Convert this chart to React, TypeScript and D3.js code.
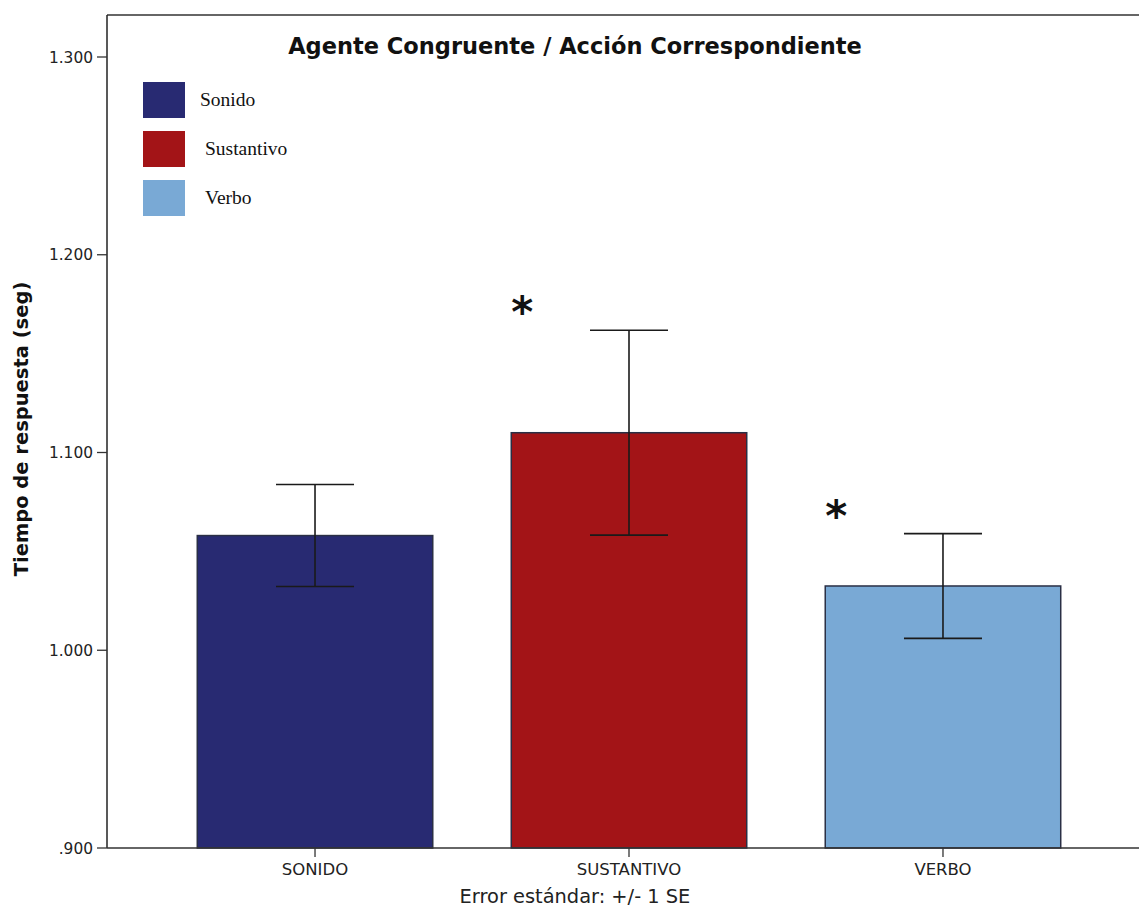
import React from "react";
import * as d3 from "d3";

// Mean response time per condition, with standard errors (seconds)
const categories = ["SONIDO", "SUSTANTIVO", "VERBO"];
const legendLabels = ["Sonido", "Sustantivo", "Verbo"];
const means = [1.058, 1.11, 1.0325];
const stdErrors = [0.0258, 0.0518, 0.0265];
const significant = [false, true, true];
const yTicks = [0.9, 1.0, 1.1, 1.2, 1.3];
const colors = ["#282a72", "#a31417", "#79a9d5"];

const W = 1139;
const H = 909;
const left = 107;
const right = 1151;
const top = 15;
const bottom = 848;

export default function App() {
  const y = d3.scaleLinear().domain([0.9, 1.3]).range([bottom, 57]);
  const x = d3
    .scaleBand<string>()
    .domain(categories)
    .range([left, right])
    .paddingInner(0.25)
    .paddingOuter(0.2875);
  const bw = x.bandwidth();
  const capHalf = 39;
  const fmt = (v: number) => {
    const s = d3.format(".3f")(v);
    return v < 1 ? s.replace(/^0/, "") : s;
  };
  const sans = "'DejaVu Sans', Arial, sans-serif";
  const serif = "'Liberation Serif', 'Times New Roman', serif";

  return (
    <svg
      width={W}
      height={H}
      style={{ position: "absolute", left: 0, top: 0, background: "#fff" }}
    >
      <rect x={0} y={0} width={W} height={H} fill="#fff" />
      {/* frame */}
      <line x1={left} x2={W} y1={top} y2={top} stroke="#666" strokeWidth={2} />
      <line x1={left} x2={left} y1={top} y2={bottom} stroke="#222" strokeWidth={1.5} />

      {/* bars */}
      {categories.map((c, i) => (
        <rect
          key={c}
          x={x(c)!}
          y={y(means[i])}
          width={bw}
          height={bottom - y(means[i])}
          fill={colors[i]}
          stroke="#2a2f45"
          strokeWidth={1.5}
        />
      ))}

      {/* error bars */}
      {categories.map((c, i) => {
        const cx = x(c)! + bw / 2;
        const hi = y(means[i] + stdErrors[i]);
        const lo = y(means[i] - stdErrors[i]);
        return (
          <g key={c} stroke="#1a1a1a" strokeWidth={1.6}>
            <line x1={cx} x2={cx} y1={hi} y2={lo} />
            <line x1={cx - capHalf} x2={cx + capHalf} y1={hi} y2={hi} />
            <line x1={cx - capHalf} x2={cx + capHalf} y1={lo} y2={lo} />
          </g>
        );
      })}

      {/* significance markers */}
      {categories.map((c, i) =>
        significant[i] ? (
          <text
            key={c}
            x={x(c)! + 11}
            y={y(means[i] + stdErrors[i]) - 24}
            dy={21}
            textAnchor="middle"
            fontFamily={sans}
            fontWeight="bold"
            fontSize={42}
            fill="#111"
          >
            *
          </text>
        ) : null
      )}

      {/* x axis */}
      <line x1={left} x2={W} y1={bottom} y2={bottom} stroke="#333" strokeWidth={1.5} />
      {categories.map((c) => {
        const cx = x(c)! + bw / 2;
        return (
          <g key={c}>
            <line x1={cx} x2={cx} y1={bottom} y2={bottom + 9} stroke="#333" strokeWidth={1.3} />
            <text
              x={cx}
              y={875}
              textAnchor="middle"
              fontFamily={sans}
              fontSize={16.5}
              fill="#222"
            >
              {c}
            </text>
          </g>
        );
      })}

      {/* y axis ticks */}
      {yTicks.map((t) => (
        <g key={t}>
          <line x1={left - 10} x2={left} y1={y(t)} y2={y(t)} stroke="#333" strokeWidth={1.3} />
          <text
            x={93}
            y={y(t)}
            dy="0.36em"
            textAnchor="end"
            fontFamily={sans}
            fontSize={15.4}
            fill="#222"
          >
            {fmt(t)}
          </text>
        </g>
      ))}

      {/* y axis title */}
      <text
        transform="translate(28,429) rotate(-90)"
        textAnchor="middle"
        fontFamily={sans}
        fontWeight="bold"
        fontSize={19.5}
        fill="#111"
      >
        Tiempo de respuesta (seg)
      </text>

      {/* chart title */}
      <text
        x={575}
        y={54}
        textAnchor="middle"
        fontFamily={sans}
        fontWeight="bold"
        fontSize={22.5}
        fill="#111"
      >
        Agente Congruente / Acción Correspondiente
      </text>

      {/* legend */}
      {legendLabels.map((l, i) => {
        const ly = 82 + i * 49;
        return (
          <g key={l}>
            <rect x={143} y={ly} width={42} height={36} fill={colors[i]} />
            <text
              x={i === 0 ? 200 : 205}
              y={ly + 24}
              fontFamily={serif}
              fontSize={19.5}
              fill="#111"
            >
              {l}
            </text>
          </g>
        );
      })}

      {/* footnote */}
      <text
        x={575}
        y={903}
        textAnchor="middle"
        fontFamily={sans}
        fontSize={19.4}
        fill="#222"
      >
        Error estándar: +/- 1 SE
      </text>
    </svg>
  );
}
